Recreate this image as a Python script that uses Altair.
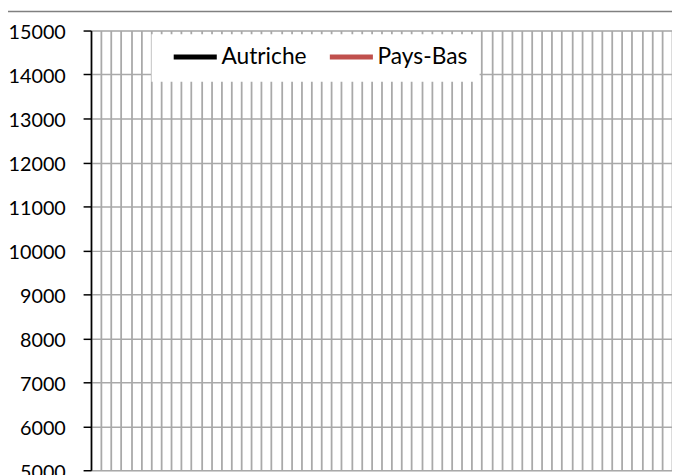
import altair as alt
import pandas as pd

# Categories (x axis, one vertical gridline per category boundary)
annees = [str(a) for a in range(1950, 2008)]
# Series names and colours (legend)
series = ["Autriche", "Pays-Bas"]
couleurs = ["#000000", "#c0504d"]
# Y axis ticks
y_ticks = list(range(5000, 15001, 1000))
y_domain = [5000, 15000]
# Series values: no point of either series falls inside the visible window
autriche = []
pays_bas = []

rows = []
for a, v in zip(annees, autriche):
    rows.append({"annee": a, "valeur": v, "pays": "Autriche"})
for a, v in zip(annees, pays_bas):
    rows.append({"annee": a, "valeur": v, "pays": "Pays-Bas"})
df = pd.DataFrame(rows, columns=["annee", "valeur", "pays"])
one = pd.DataFrame({"k": [0]})

FONT = "Lato"

x = alt.X(
    "annee:O",
    scale=alt.Scale(domain=annees, paddingInner=0, paddingOuter=0),
    axis=alt.Axis(
        title=None, labels=False, ticks=False, domain=False, grid=True,
        tickBand="extent", gridColor="#a9a9a9", gridWidth=1.8,
    ),
)
y = alt.Y(
    "valeur:Q",
    scale=alt.Scale(domain=y_domain, nice=False, zero=False),
    axis=alt.Axis(
        title=None, values=y_ticks, format="d",
        labelFont=FONT, labelFontSize=20, labelColor="#000000",
        labelPadding=18, labelOffset=2,
        tickSize=8, tickColor="#000000", tickWidth=1.5,
        domainColor="#000000", domainWidth=1.6,
        gridColor="#a9a9a9", gridWidth=1.5,
    ),
)
color = alt.Color(
    "pays:N",
    scale=alt.Scale(domain=series, range=couleurs),
    legend=alt.Legend(
        title=None, orient="none", legendX=58, legendY=-8, direction="horizontal",
        symbolType="stroke", symbolSize=1900, symbolStrokeWidth=5,
        labelFont=FONT, labelFontSize=23, labelColor="#000000",
        labelOffset=2, columnPadding=7, padding=10, symbolOffset=13,
    ),
)

# white box behind the legend
legend_box = alt.Chart(one).mark_rect(color="#ffffff").encode(
    x=alt.value(61.3), x2=alt.value(393.3), y=alt.value(3.7), y2=alt.value(51.7)
)

lines = alt.Chart(df).mark_line(strokeWidth=3).encode(x=x, y=y, color=color)

frame_top = alt.Chart(one).mark_rule(color="#808080", strokeWidth=1.5).encode(
    y=alt.value(-19.3), x=alt.value(-84), x2=alt.value(600)
)

chart = alt.layer(lines, legend_box, frame_top).properties(
    width=588, height=445,
    autosize=alt.AutoSizeParams(type="none"),
    padding={"left": 84, "top": 20, "right": 0, "bottom": 2},
).configure_view(stroke=None).configure(background="#ffffff")

chart.save("out.html", embed_options={"renderer": "svg", "actions": False})
